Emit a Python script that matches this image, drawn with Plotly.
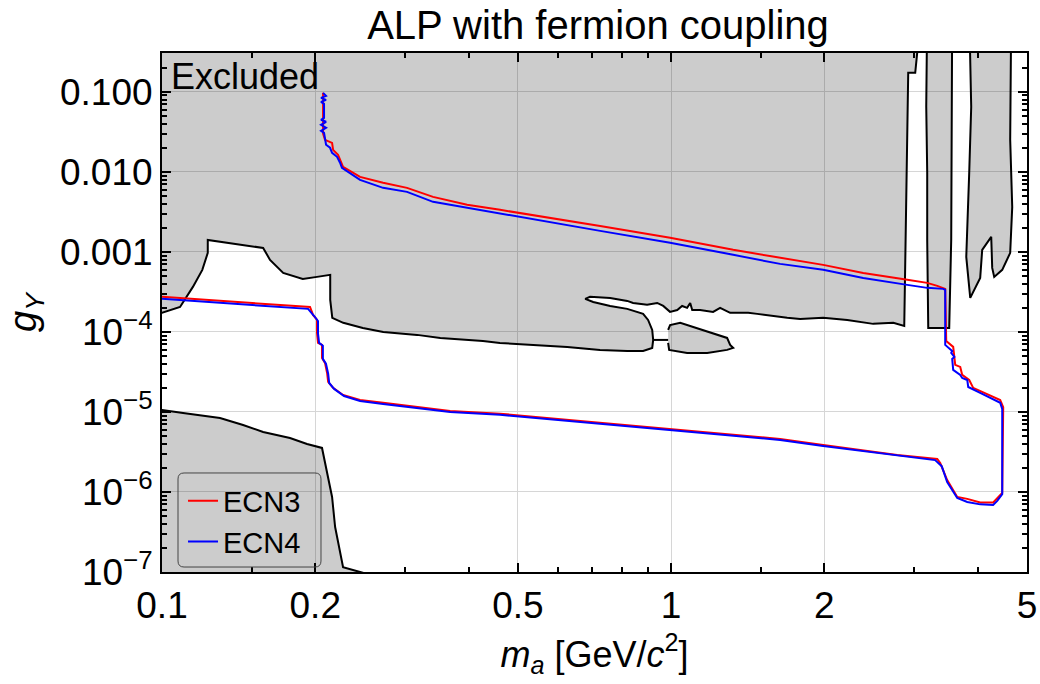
import plotly.graph_objects as go

# ---------------- data (GeV/c^2, coupling) ----------------
# Excluded region: large upper area
exclA_x = [0.09, 3.043, 3.043, 3.016, 2.922, 2.910, 2.883, 2.870, 2.731, 2.494, 2.218, 1.989, 1.792, 1.690,
           1.476, 1.417, 1.306, 1.248, 1.209, 1.140, 1.100, 1.090, 1.075, 1.051, 1.028, 0.995, 0.965, 0.939,
           0.897, 0.869, 0.842, 0.820, 0.759, 0.693, 0.678, 0.703, 0.759, 0.820, 0.858, 0.881, 0.901, 0.918,
           0.922, 0.918, 0.881, 0.820, 0.725, 0.625, 0.536, 0.461, 0.427, 0.352, 0.317, 0.272, 0.248, 0.227,
           0.216, 0.214, 0.214, 0.214, 0.2016, 0.189, 0.173, 0.163, 0.158, 0.132, 0.123, 0.123, 0.120, 0.115,
           0.1085, 0.1, 0.09]
exclA_y = [1.0, 1.0, 0.307, 0.173, 0.173, 0.0251, 0.00141, 1.19e-4, 1.30e-4, 1.26e-4, 1.41e-4, 1.50e-4, 1.45e-4,
           1.50e-4, 1.68e-4, 1.73e-4, 1.73e-4, 2.0e-4, 1.78e-4, 1.88e-4, 1.88e-4, 2.30e-4, 2.0e-4, 2.11e-4,
           1.88e-4, 1.78e-4, 2.11e-4, 2.30e-4, 2.18e-4, 2.24e-4, 2.30e-4, 2.44e-4, 2.66e-4, 2.74e-4, 2.59e-4,
           2.37e-4, 2.11e-4, 1.94e-4, 1.78e-4, 1.68e-4, 1.41e-4, 1.06e-4, 7.94e-5, 6.31e-5, 5.79e-5, 5.79e-5,
           5.96e-5, 6.49e-5, 6.88e-5, 7.29e-5, 7.72e-5, 8.41e-5, 9.18e-5, 1.0e-4, 1.12e-4, 1.30e-4, 1.50e-4,
           2.51e-4, 3.65e-4, 5.16e-4, 4.87e-4, 4.60e-4, 5.46e-4, 7.94e-4, 1.12e-3, 1.33e-3, 1.41e-3, 9.72e-4,
           5.96e-4, 3.65e-4, 2.05e-4, 1.73e-4, 1.73e-4]

# small island and its connecting contour segment
island_x = [0.9865, 0.9954, 1.042, 1.105, 1.209, 1.288, 1.306, 1.324, 1.288, 1.177, 1.075, 1.009, 0.991, 0.9865]
island_y = [1.06e-4, 1.22e-4, 1.30e-4, 1.15e-4, 9.72e-5, 8.41e-5, 6.88e-5, 6.31e-5, 5.96e-5, 5.46e-5, 5.46e-5,
            5.79e-5, 5.96e-5, 7.29e-5]
neck_x = [0.922, 0.9865]
neck_y = [7.94e-5, 7.94e-5]

# narrow vertical strips near 3.2-3.6 and 3.8-4.7 GeV
stripB_x = [3.184, 3.170, 3.184, 3.184, 3.199, 3.517, 3.549, 3.565, 3.565]
stripB_y = [1.0, 0.0649, 0.00972, 1.41e-3, 1.12e-4, 1.12e-4, 1.41e-3, 0.0251, 1.0]
stripC_x = [3.850, 3.885, 3.850, 3.816, 3.799, 3.868, 4.046, 4.083, 4.253, 4.272, 4.311, 4.470, 4.634, 4.677,
            4.634, 4.656]
stripC_y = [1.0, 0.0649, 0.00972, 1.41e-3, 8.66e-4, 2.66e-4, 4.73e-4, 1.06e-3, 1.54e-3, 6.31e-4, 4.87e-4,
            5.96e-4, 9.72e-4, 3.65e-3, 0.0251, 1.0]

# bottom-left excluded region
exclD_x = [0.09, 0.1, 0.110, 0.1243, 0.130, 0.1443, 0.158, 0.1784, 0.1927, 0.2062, 0.211, 0.2158, 0.2188,
           0.2237, 0.2268, 0.2449, 0.26, 0.09]
exclD_y = [1.06e-5, 1.06e-5, 9.72e-6, 8.66e-6, 8.41e-6, 6.88e-6, 5.62e-6, 4.73e-6, 3.98e-6, 3.55e-6, 1.73e-6,
           8.66e-7, 3.65e-7, 1.73e-7, 1.15e-7, 1.0e-7, 9e-8, 9e-8]

# ECN3 sensitivity contour
ecn3_x = [0.1, 0.1953, 0.198, 0.2016, 0.2016, 0.2025, 0.2062, 0.2062, 0.209, 0.211, 0.212, 0.2168, 0.2268,
          0.2449, 0.2718, 0.317, 0.3681, 0.4613, 0.7254, 0.9865, 1.324, 1.637, 1.989, 2.384, 2.78, 3.332,
          3.377, 3.485, 3.647, 3.816, 4.046, 4.291, 4.389, 4.470, 4.490, 4.429, 3.920, 3.850, 3.730, 3.697,
          3.614, 3.581, 3.470, 3.454, 3.454, 3.332, 3.184, 2.910, 2.384, 1.989, 1.637, 1.324, 0.9954, 0.7254,
          0.4613, 0.3974, 0.3407, 0.3029, 0.2718, 0.2449, 0.2268, 0.2217, 0.2168, 0.2158, 0.209, 0.2072, 0.2072]
ecn3_y = [2.74e-4, 2.05e-4, 1.63e-4, 1.41e-4, 9.72e-5, 7.29e-5, 6.88e-5, 4.73e-5, 4.1e-5, 3.07e-5, 2.37e-5,
          2.0e-5, 1.63e-5, 1.41e-5, 1.30e-5, 1.15e-5, 1.03e-5, 9.5e-6, 7.29e-6, 6.13e-6, 5.16e-6, 4.6e-6,
          3.87e-6, 3.35e-6, 2.9e-6, 2.59e-6, 2.3e-6, 1.41e-6, 8.66e-7, 8.2e-7, 7.4e-7, 7.4e-7, 8.66e-7, 9.72e-7,
          1.15e-5, 1.41e-5, 2.0e-5, 2.51e-5, 2.9e-5, 3.65e-5, 3.87e-5, 6.5e-5, 7.7e-5, 3.35e-4, 3.45e-4,
          3.76e-4, 4.1e-4, 4.47e-4, 5.46e-4, 6.88e-4, 8.41e-4, 1.06e-3, 1.5e-3, 2.11e-3, 3.35e-3, 3.87e-3,
          4.87e-3, 6.31e-3, 7.29e-3, 8.66e-3, 1.155e-2, 1.63e-2, 1.88e-2, 2.3e-2, 2.51e-2, 0.03, 0.097]

# ECN4 sensitivity contour
ecn4_x = [0.1, 0.1936, 0.199, 0.2025, 0.2025, 0.2035, 0.207, 0.207, 0.2099, 0.212, 0.213, 0.2178, 0.2278,
          0.2449, 0.2718, 0.317, 0.3681, 0.4613, 0.7254, 0.9865, 1.324, 1.637, 1.989, 2.384, 2.78, 3.30, 3.40,
          3.485, 3.647, 3.816, 4.046, 4.29, 4.37, 4.47, 4.47, 4.43, 4.046, 3.833, 3.816, 3.73, 3.697, 3.581,
          3.565, 3.60, 3.549, 3.565, 3.454, 3.454, 3.423, 3.184, 2.91, 2.384, 1.989, 1.637, 1.324, 0.9954,
          0.7254, 0.4613, 0.3974, 0.3407, 0.3029, 0.2718, 0.2449, 0.2309, 0.2257, 0.2237, 0.2207, 0.2158,
          0.2138, 0.210, 0.2081, 0.2053, 0.210, 0.2053, 0.210, 0.2053, 0.2081, 0.2081, 0.2053, 0.210, 0.2053,
          0.210, 0.2072]
ecn4_y = [2.59e-4, 1.94e-4, 1.58e-4, 1.37e-4, 9.5e-5, 7.3e-5, 6.7e-5, 4.6e-5, 4.0e-5, 3.0e-5, 2.3e-5, 1.94e-5,
          1.58e-5, 1.37e-5, 1.26e-5, 1.12e-5, 1.0e-5, 9.2e-6, 7.1e-6, 5.96e-6, 5.0e-6, 4.47e-6, 3.76e-6,
          3.25e-6, 2.82e-6, 2.5e-6, 2.1e-6, 1.33e-6, 8.4e-7, 7.5e-7, 7.0e-7, 6.88e-7, 7.72e-7, 9.4e-7, 1.09e-5,
          1.30e-5, 1.73e-5, 2.05e-5, 2.51e-5, 2.66e-5, 2.9e-5, 3.35e-5, 4.6e-5, 4.87e-5, 5.46e-5, 5.79e-5,
          6.88e-5, 3.35e-4, 3.45e-4, 3.55e-4, 3.87e-4, 4.73e-4, 5.96e-4, 7.08e-4, 9.18e-4, 1.30e-3, 1.83e-3,
          2.99e-3, 3.55e-3, 4.22e-3, 5.62e-3, 6.31e-3, 7.94e-3, 1.0e-2, 1.12e-2, 1.30e-2, 1.54e-2, 1.73e-2,
          2.0e-2, 2.18e-2, 3.07e-2, 3.26e-2, 3.55e-2, 3.87e-2, 4.22e-2, 4.47e-2, 4.73e-2, 7.08e-2, 7.5e-2,
          7.94e-2, 8.41e-2, 8.91e-2, 9.7e-2]

x_tickvals = [0.1, 0.2, 0.5, 1, 2, 5]
x_ticktext = ["0.1", "0.2", "0.5", "1", "2", "5"]
x_minorvals = [0.15, 0.3, 0.4, 0.6, 0.7, 0.8, 0.9, 1.5, 3, 4]
y_tickvals = [1e-7, 1e-6, 1e-5, 1e-4, 1e-3, 1e-2, 1e-1]
y_ticktext = ["10<sup>\u22127</sup>", "10<sup>\u22126</sup>", "10<sup>\u22125</sup>", "10<sup>\u22124</sup>",
              "0.001", "0.010", "0.100"]
y_minorvals = [m * 10.0 ** e for e in range(-7, 0) for m in range(2, 10)]

# ---------------- figure ----------------
FONT = "Liberation Sans, Arial, sans-serif"
fig = go.Figure()

fill = "rgba(0,0,0,0.2)"
for rx, ry in [(exclA_x, exclA_y), (island_x, island_y), (stripB_x, stripB_y),
               (stripC_x, stripC_y), (exclD_x, exclD_y)]:
    fig.add_trace(go.Scatter(x=rx, y=ry, mode="lines", fill="toself", fillcolor=fill,
                             line=dict(color="black", width=2), showlegend=False, hoverinfo="skip"))
fig.add_trace(go.Scatter(x=neck_x, y=neck_y, mode="lines", line=dict(color="black", width=2),
                         showlegend=False, hoverinfo="skip"))

fig.add_trace(go.Scatter(x=ecn3_x, y=ecn3_y, mode="lines", name="ECN3",
                         line=dict(color="#ff0000", width=2)))
fig.add_trace(go.Scatter(x=ecn4_x, y=ecn4_y, mode="lines", name="ECN4",
                         line=dict(color="#0000ff", width=2)))

axis_common = dict(showline=True, linecolor="black", linewidth=2, mirror="allticks",
                   ticks="inside", ticklen=9, tickwidth=2, tickcolor="black",
                   showgrid=True, gridcolor="#d6d6d6", gridwidth=1, zeroline=False,
                   automargin=False,
                   tickfont=dict(family=FONT, size=37, color="black"))

fig.update_xaxes(type="log", range=[-1, 0.69897], tickmode="array", tickvals=x_tickvals,
                 ticktext=x_ticktext,
                 minor=dict(tickmode="array", tickvals=x_minorvals, ticks="inside", ticklen=5,
                            tickwidth=1.5, tickcolor="black", showgrid=False),
                 title=dict(text="<i>m</i><sub><i>a</i></sub> [GeV/<i>c</i><sup>2</sup>]",
                            font=dict(family=FONT, size=36, color="black"), standoff=16),
                 **axis_common)
fig.update_yaxes(type="log", range=[-7, -0.515], tickmode="array", tickvals=y_tickvals,
                 ticktext=y_ticktext,
                 minor=dict(tickmode="array", tickvals=y_minorvals, ticks="inside", ticklen=5,
                            tickwidth=1.5, tickcolor="black", showgrid=False),
                 title=dict(text="<i>g</i><sub><i>Y</i></sub>",
                            font=dict(family=FONT, size=38, color="black"), standoff=12),
                 **axis_common)

fig.add_annotation(text="Excluded", xref="paper", yref="paper", x=0.008, y=0.955,
                   xanchor="left", yanchor="middle", showarrow=False,
                   font=dict(family=FONT, size=36, color="black"))

# rounded frame around the legend (paper coordinates)
x0, x1, y0, y1 = 0.0185, 0.1838, 0.0096, 0.1908
rx, ry = 0.007, 0.0115
frame = (f"M {x0+rx},{y0} L {x1-rx},{y0} Q {x1},{y0} {x1},{y0+ry} L {x1},{y1-ry} "
         f"Q {x1},{y1} {x1-rx},{y1} L {x0+rx},{y1} Q {x0},{y1} {x0},{y1-ry} "
         f"L {x0},{y0+ry} Q {x0},{y0} {x0+rx},{y0} Z")
fig.add_shape(type="path", path=frame, xref="paper", yref="paper",
              line=dict(color="#444444", width=1), fillcolor="rgba(0,0,0,0)", layer="above")

fig.update_layout(
    width=1040, height=684, autosize=False,
    margin=dict(l=162, r=13, t=53, b=112),
    paper_bgcolor="white", plot_bgcolor="white",
    title=dict(text="ALP with fermion coupling", x=0.575, xanchor="center",
               y=0.963, yref="container", yanchor="middle",
               font=dict(family=FONT, size=40, color="black")),
    legend=dict(x=0.0243, y=0.186, xanchor="left", yanchor="top",
                bgcolor="rgba(0,0,0,0)", borderwidth=0,
                font=dict(family=FONT, size=29, color="black"), itemwidth=30,
                tracegroupgap=0),
    showlegend=True,
)

fig.write_html("out.html")
